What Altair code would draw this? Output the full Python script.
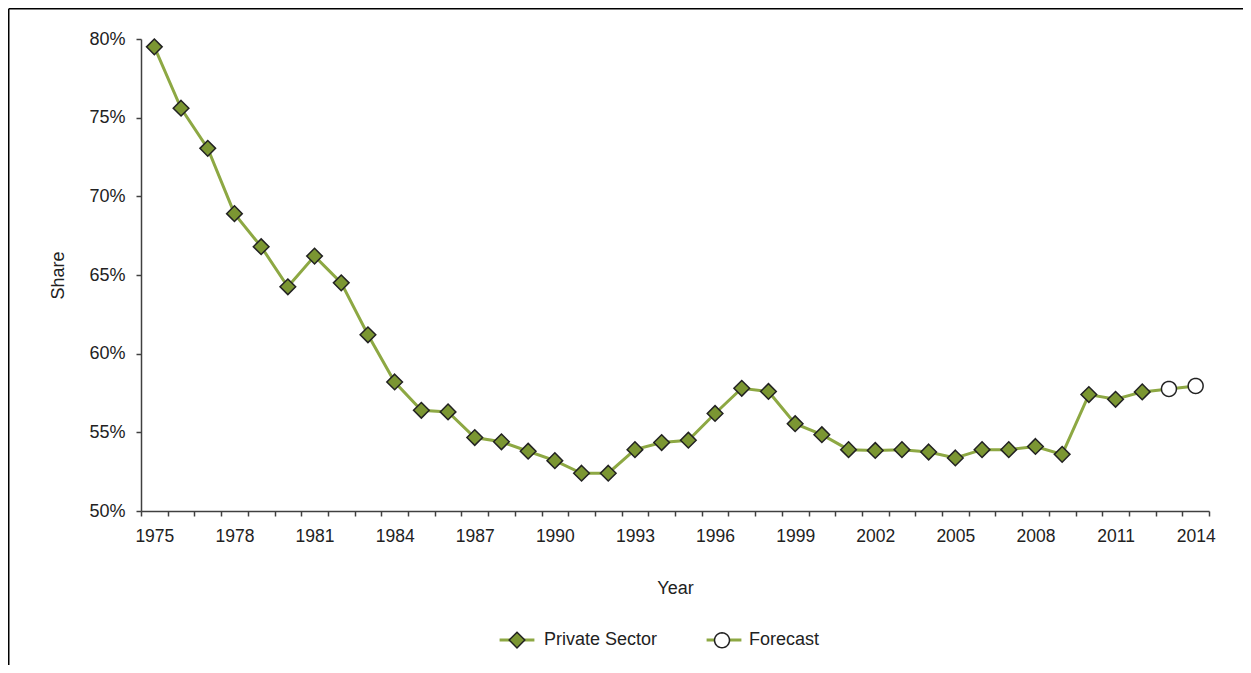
import math
import altair as alt
import pandas as pd

# ---- data ----
years = list(range(1975, 2015))
share = [79.5, 75.6, 73.05, 68.9, 66.8, 64.25, 66.2, 64.5, 61.2, 58.2,
         56.4, 56.3, 54.67, 54.4, 53.8, 53.2, 52.4, 52.4, 53.9, 54.35,
         54.5, 56.2, 57.8, 57.6, 55.55, 54.85, 53.9, 53.85, 53.9, 53.75,
         53.37, 53.9, 53.9, 54.1, 53.6, 57.4, 57.1, 57.57, 57.76, 57.95]
series = ["Private Sector"] * 38 + ["Forecast"] * 2
series_names = ["Private Sector", "Forecast"]
y_ticks = [50, 55, 60, 65, 70, 75, 80]

LINE = "#8DA843"
FILL = "#7B9632"
DARK = "#222222"
AXIS = "#404040"
FONT = "Liberation Sans"
ZW = "\u200b"  # keeps the line legend's domain distinct without changing its text

df = pd.DataFrame({"year": years, "share": share, "series": series})
df["lkey"] = series_names[0] + ZW

# marker outlines (normalised symbol paths)
DIAMOND = "M0,-0.46L0.46,0L0,0.46L-0.46,0Z"
_pts = [(0.44 * math.cos(2 * math.pi * i / 36), 0.44 * math.sin(2 * math.pi * i / 36)) for i in range(36)]
CIRCLE = "M" + "L".join(f"{px:.4f},{py:.4f}" for px, py in _pts) + "Z"
BAR = "M-0.98,-0.044L0.98,-0.044L0.98,0.044L-0.98,0.044Z"  # legend line glyph

x_enc = alt.X(
    "year:O",
    scale=alt.Scale(type="band", domain=years, paddingInner=0, paddingOuter=0),
    axis=alt.Axis(
        title="Year",
        labelExpr="(datum.value - 1975) % 3 == 0 ? datum.label : ''",
        labelAngle=0,
        labelOverlap=False,
        tickBand="extent",
        tickSize=5,
        labelPadding=11,
        labelFontSize=17.5,
        titleFontSize=18,
        titleFontWeight="normal",
        titleY=77,
        titleBaseline="middle",
        grid=False,
    ),
)
y_enc = alt.Y(
    "share:Q",
    scale=alt.Scale(domain=[50, 80], nice=False, zero=False),
    axis=alt.Axis(
        title="Share",
        values=y_ticks,
        labelExpr="datum.value + '%'",
        tickSize=5,
        labelPadding=11,
        labelFontSize=18,
        titleFontSize=18,
        titleFontWeight="normal",
        titleX=-83,
        titleY=236,
        titleAlign="center",
        titleBaseline="middle",
        grid=False,
    ),
)

legend_common = dict(
    orient="none", legendX=358, legendY=583, direction="horizontal",
    title=None, symbolSize=1156, symbolStrokeWidth=1.5, labelFontSize=18,
    labelFont=FONT, labelColor=DARK, labelOffset=9, columnPadding=46, padding=0,
)
marker_legend = alt.Legend(symbolStrokeColor=DARK, zindex=2, **legend_common)

line = alt.Chart(df).mark_line(strokeWidth=3).encode(
    x=x_enc,
    y=y_enc,
    color=alt.Color(
        "lkey:N",
        scale=alt.Scale(domain=[s + ZW for s in series_names], range=[LINE, LINE]),
        legend=alt.Legend(symbolType=BAR, symbolFillColor=LINE,
                          labelOpacity=0, zindex=1, **legend_common),
    ),
)

points = alt.Chart(df).mark_point(
    filled=True, opacity=1, size=1156, strokeWidth=1.5
).encode(
    x=alt.X("year:O"),
    y=alt.Y("share:Q"),
    fill=alt.Fill(
        "series:N",
        scale=alt.Scale(domain=series_names, range=[FILL, "#ffffff"]),
        legend=marker_legend,
    ),
    stroke=alt.Stroke(
        "series:N",
        scale=alt.Scale(domain=series_names, range=[DARK, DARK]),
        legend=marker_legend,
    ),
    shape=alt.Shape(
        "series:N",
        scale=alt.Scale(domain=series_names, range=[DIAMOND, CIRCLE]),
        legend=marker_legend,
    ),
)

frame_data = alt.Data(values=[{"k": 1}])
top_rule = alt.Chart(frame_data).mark_rule(color="black", strokeWidth=1.5).encode(
    x=alt.value(-132.25), x2=alt.value(1102), y=alt.value(-30.25)
)
left_rule = alt.Chart(frame_data).mark_rule(color="black", strokeWidth=1.5).encode(
    x=alt.value(-132.25), y=alt.value(-30.25), y2=alt.value(640)
)

chart = alt.layer(line, points, top_rule, left_rule).properties(
    width=1068,
    height=472,
    padding={"left": 133, "top": 31, "right": 34, "bottom": 154},
    autosize=alt.AutoSizeParams(type="none"),
).configure(
    font=FONT,
    view=alt.ViewConfig(stroke=None),
    axis=alt.AxisConfig(
        labelFont=FONT, titleFont=FONT, labelColor=DARK, titleColor=DARK,
        domainColor=AXIS, tickColor=AXIS, domainWidth=1.5, tickWidth=1.5,
    ),
)

chart.save("out.html", embed_options={"renderer": "svg", "actions": False})
